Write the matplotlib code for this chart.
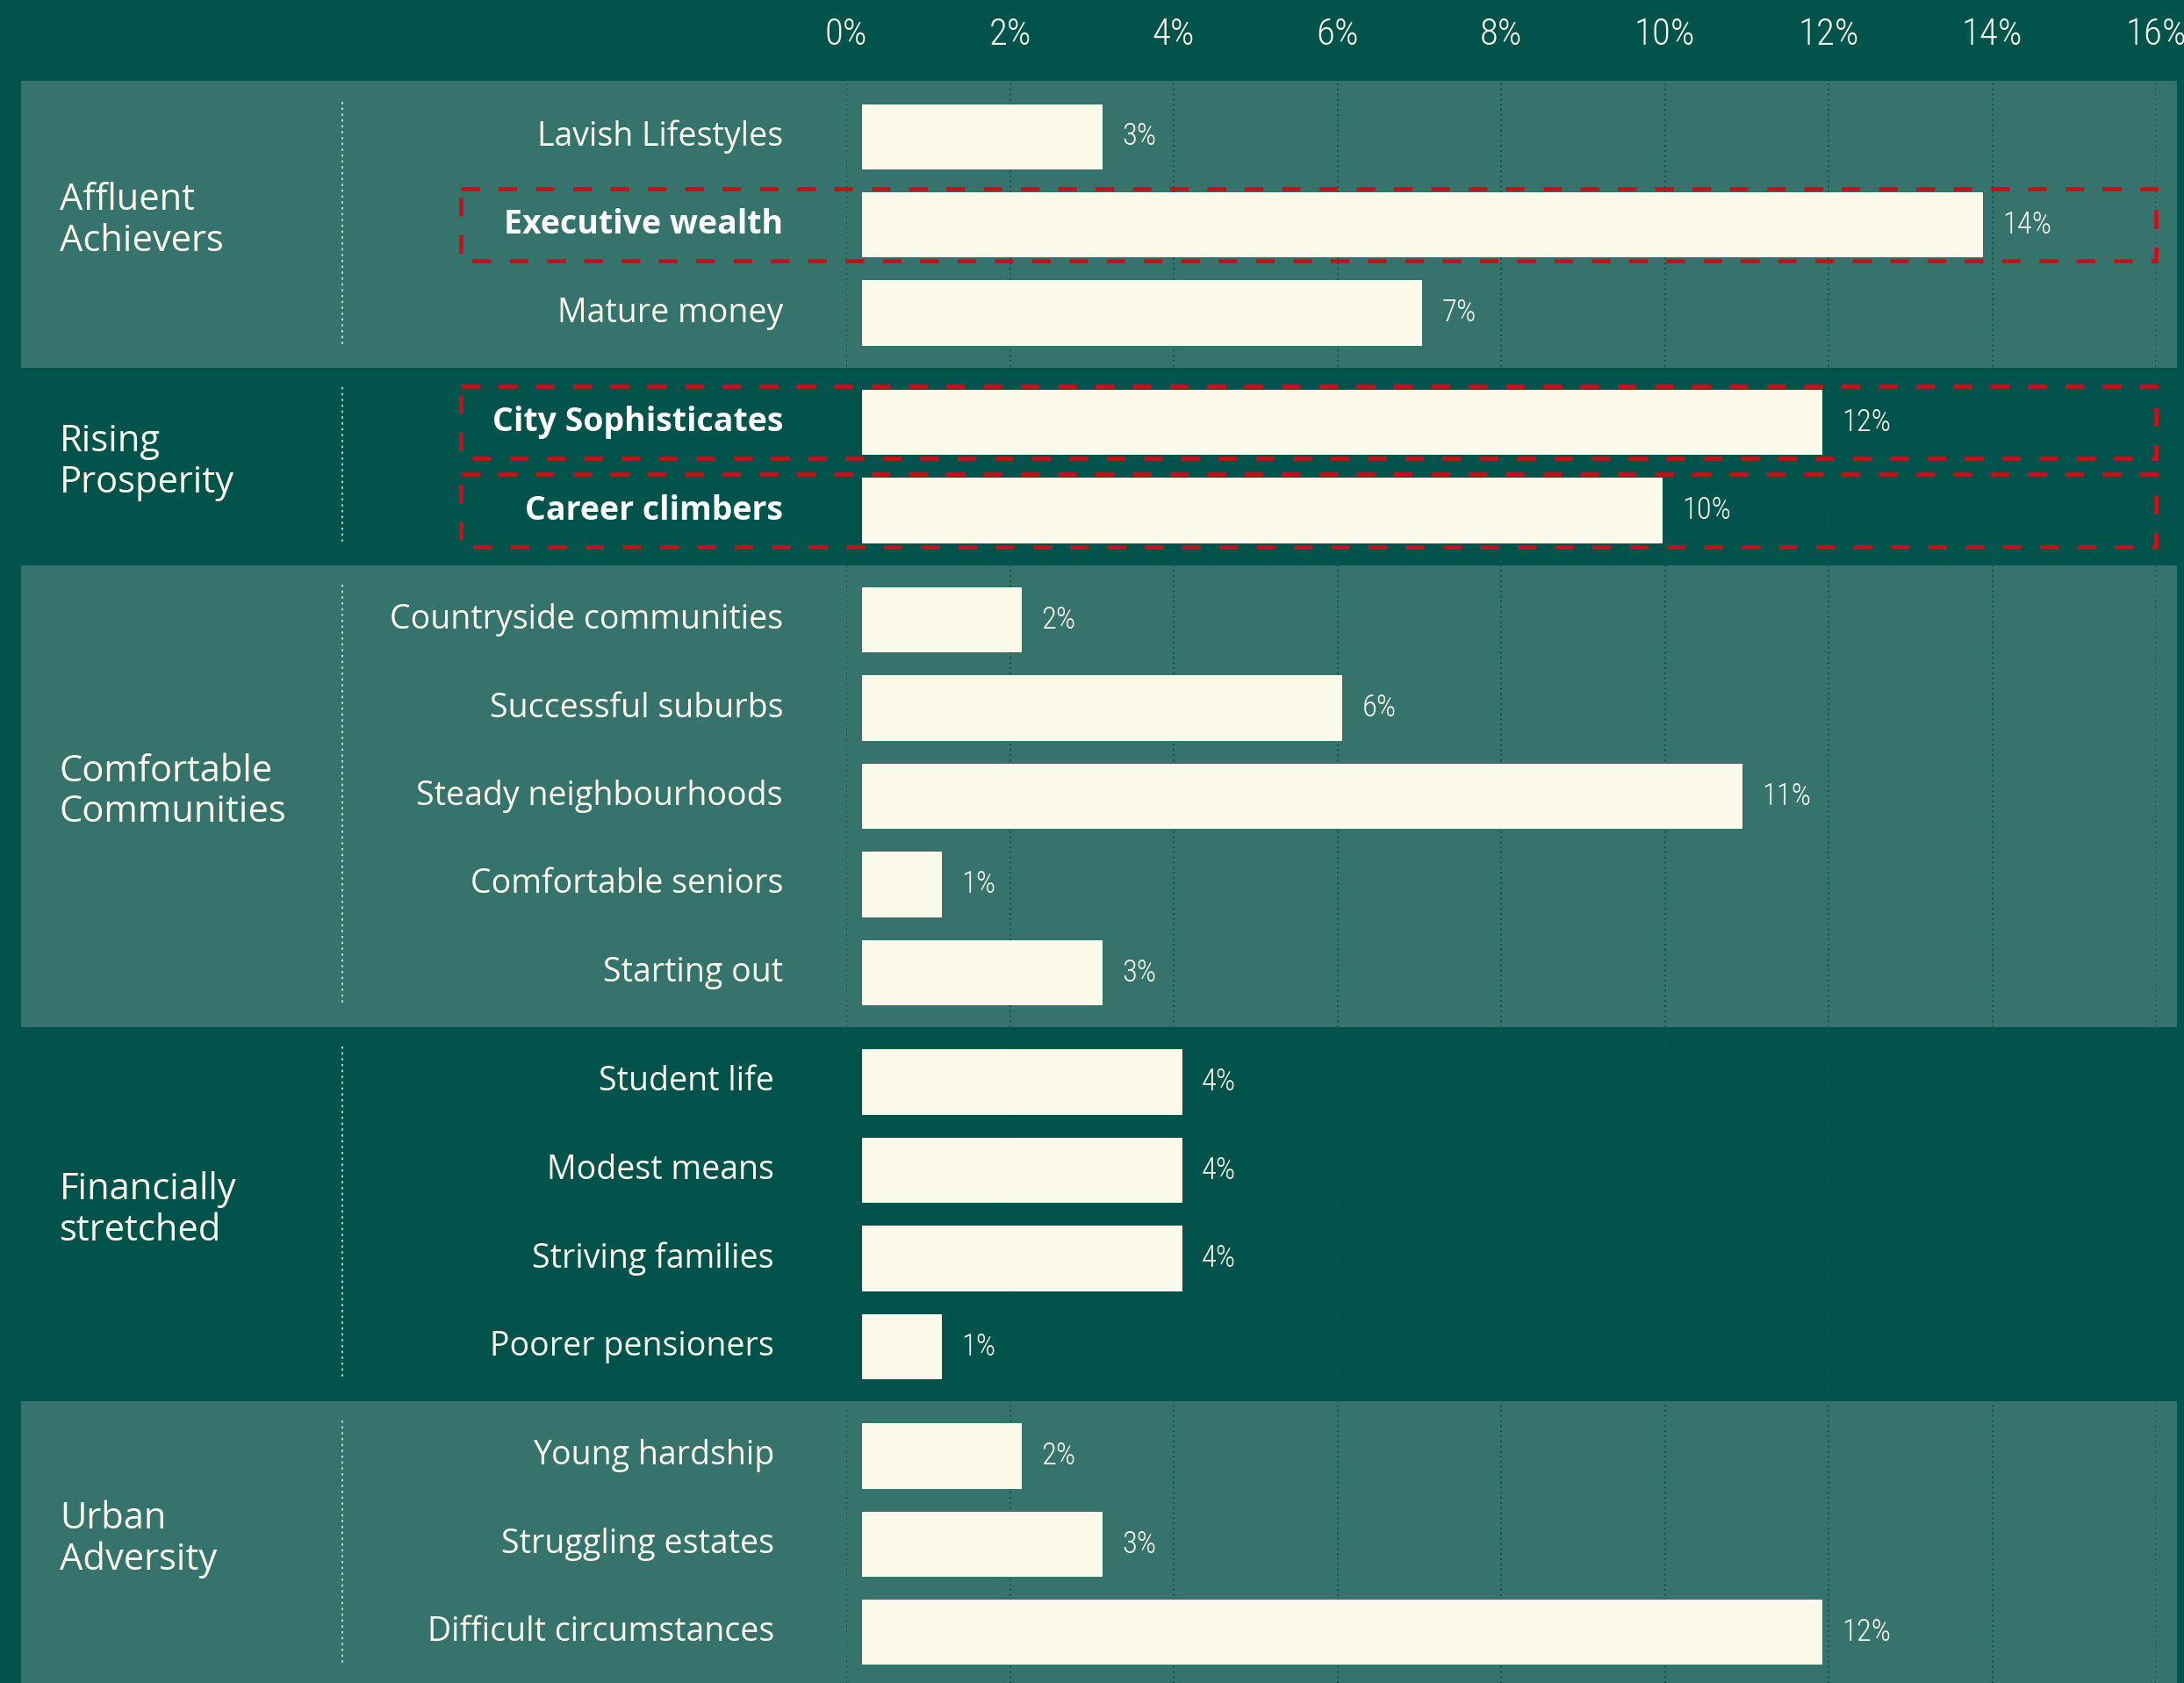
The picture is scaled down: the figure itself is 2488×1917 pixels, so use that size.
import matplotlib.pyplot as plt
import numpy as np
from matplotlib.patches import Rectangle
from matplotlib.transforms import blended_transform_factory

# data
groups = ['Affluent\nAchievers', 'Rising\nProsperity', 'Comfortable\nCommunities',
          'Financially\nstretched', 'Urban\nAdversity']
segment_group = [0, 0, 0, 1, 1, 2, 2, 2, 2, 2, 3, 3, 3, 3, 4, 4, 4]
segments = ['Lavish Lifestyles', 'Executive wealth', 'Mature money',
            'City Sophisticates', 'Career climbers',
            'Countryside communities', 'Successful suburbs', 'Steady neighbourhoods',
            'Comfortable seniors', 'Starting out',
            'Student life', 'Modest means', 'Striving families', 'Poorer pensioners',
            'Young hardship', 'Struggling estates', 'Difficult circumstances']
values = [3, 14, 7, 12, 10, 2, 6, 11, 1, 3, 4, 4, 4, 1, 2, 3, 12]
highlighted = ['Executive wealth', 'City Sophisticates', 'Career climbers']
ticks = [0, 2, 4, 6, 8, 10, 12, 14, 16]

DARK = '#02534C'
LIGHT = '#35736C'
BAR = '#FBF9EA'
GRID = '#0C564F'
RED = '#C8101A'
TXT = '#FBF9EA'
FONT = ['Open Sans', 'DejaVu Sans']
NARROW = ['Roboto Condensed', 'Liberation Sans Narrow', 'DejaVu Sans']

W, H = 2488, 1917
fig = plt.figure(figsize=(W / 100, H / 100), dpi=100)
fig.patch.set_facecolor(DARK)

gidx = np.array(segment_group)
ypos = np.arange(len(segments)) + 0.24 * gidx
ytop = -1.55
ybot = ypos[-1] + 0.575

# background axes, x in pixels
bg = fig.add_axes([0, 0, 1, 1], zorder=0)
bg.set_xlim(0, W)
bg.set_ylim(ybot, ytop)
bg.axis('off')

for g, name in enumerate(groups):
    ys = ypos[gidx == g]
    if g == 0:
        top = ys[0] - 0.63
    else:
        top = (ypos[gidx == g - 1][-1] + ys[0]) / 2
    if g == len(groups) - 1:
        bottom = ybot + 1
    else:
        bottom = (ys[-1] + ypos[gidx == g + 1][0]) / 2
    if g % 2 == 0:
        bg.add_patch(Rectangle((24, top), 2456, bottom - top, color=LIGHT, lw=0))
    bg.plot([390, 390], [ys[0] - 0.4, ys[-1] + 0.38], color=TXT, lw=1.2,
            ls=(0, (1.5, 2.5)), alpha=0.9)
    bg.text(68, ys.mean() - 0.05, name, fontsize=30, color=TXT, family=FONT,
            weight='normal', va='center', ha='left', linespacing=1.15)

for i, (s, y) in enumerate(zip(segments, ypos)):
    lx = 892 if gidx[i] < 3 else 882
    if s in highlighted:
        bg.text(lx, y, s, fontsize=27, color='white', family=FONT, weight='bold',
                va='center', ha='right')
    else:
        bg.text(lx, y, s, fontsize=27, color=TXT, family=FONT, weight='normal',
                va='center', ha='right')

# grid / tick axes
gax = fig.add_axes([964 / W, 0, (2456 - 964) / W, 1 - 92 / H], zorder=1)
gax.set_xlim(0, 16)
gax.set_ylim(0, 1)
gax.patch.set_alpha(0)
for t in ticks:
    gax.axvline(t, color=GRID, lw=1.4, ls=(0, (1, 2)))
gax.xaxis.tick_top()
gax.set_xticks(ticks)
gax.set_xticklabels([f'{t}%' for t in ticks], fontsize=31, color=TXT, family=NARROW,
                    weight=300)
gax.set_yticks([])
gax.tick_params(length=0, pad=23)
for sp in gax.spines.values():
    sp.set_visible(False)

# bars
ax = fig.add_axes([982 / W, 0, 16 * 91.2 / W, 1], zorder=2)
ax.patch.set_alpha(0)
ax.barh(ypos, values, height=0.74, color=BAR)
ax.set_xlim(0, 16)
ax.set_ylim(ybot, ytop)
ax.axis('off')
for v, y in zip(values, ypos):
    ax.annotate(f'{v}%', (v, y), xytext=(16, 0), textcoords='offset points',
                va='center', ha='left', fontsize=25, color=TXT, family=NARROW, weight=300)

# red dashed boxes
tr = blended_transform_factory(bg.transData, ax.transData)
for s, y in zip(segments, ypos):
    if s in highlighted:
        ax.add_patch(Rectangle((525, y - 0.41), 2456 - 525, 0.82, transform=tr,
                               fill=False, edgecolor=RED, lw=3.4,
                               ls=(0, (4.5, 4.5)), clip_on=False))

fig.savefig('out.png', dpi=100, facecolor=DARK)
